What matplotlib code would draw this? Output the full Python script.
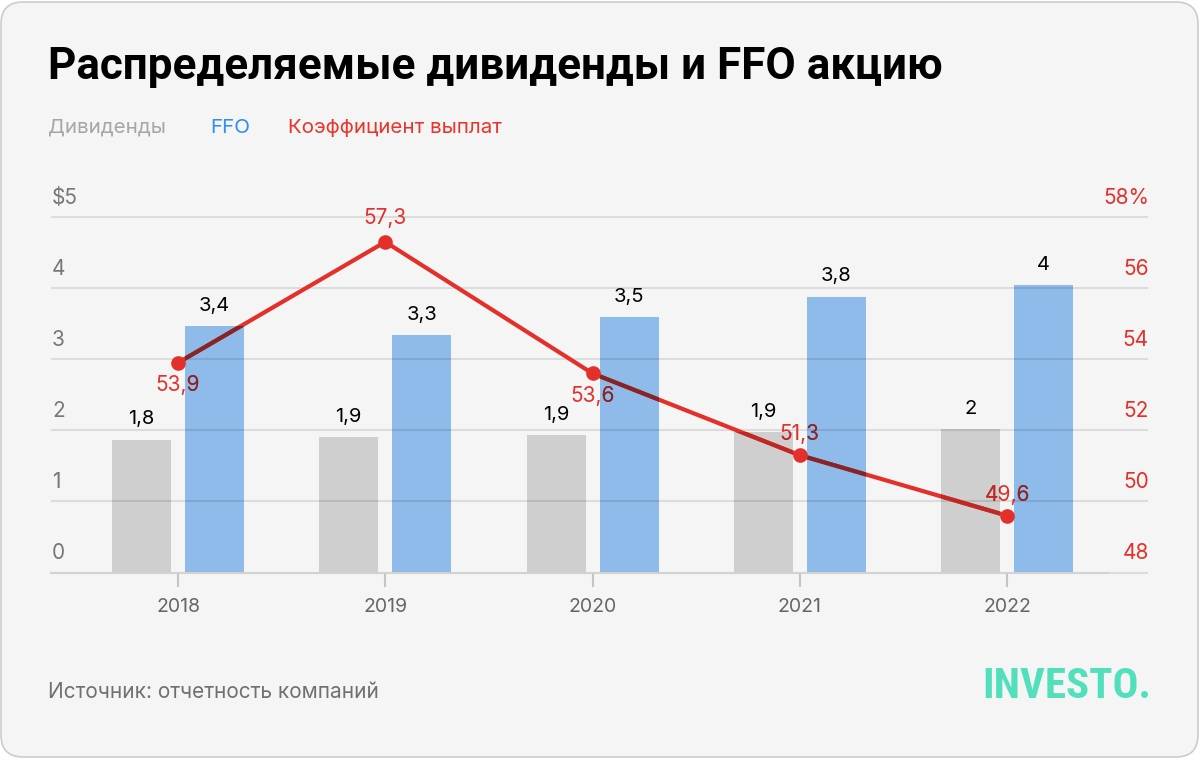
import math
import matplotlib
matplotlib.use("Agg")
import matplotlib.pyplot as plt
from matplotlib.patches import FancyBboxPatch
from matplotlib.transforms import IdentityTransform, blended_transform_factory

# ---------------- data ----------------
years = ["2018", "2019", "2020", "2021", "2022"]
dividends = [1.87, 1.91, 1.93, 1.98, 2.02]
ffo = [3.46, 3.34, 3.59, 3.88, 4.04]
payout = [53.9, 57.3, 53.6, 51.3, 49.6]
payout_label_side = ["below", "above", "below", "above", "above"]
left_ticks = [0, 1, 2, 3, 4, 5]
left_tick_labels = ["0", "1", "2", "3", "4", "$5"]
right_ticks = [48, 50, 52, 54, 56, 58]
right_tick_labels = ["48", "50", "52", "54", "56", "58%"]

title = "Распределяемые дивиденды и FFO акцию"
legend_labels = ["Дивиденды", "FFO", "Коэффициент выплат"]
source = "Источник: отчетность компаний"
logo = "INVESTO."

# ---------------- style ----------------
BG = "#f5f5f5"
GRAY_BAR = "#cfcfcf"
BLUE_BAR = "#8fbbeb"
RED = "#e3302a"
TICK_GRAY = "#777777"
BODY = ["Inter", "Roboto", "DejaVu Sans"]
plt.rcParams["font.family"] = BODY

W, H = 1200, 758
fig = plt.figure(figsize=(W / 100, H / 100), dpi=100)
fig.patch.set_facecolor("white")

card = FancyBboxPatch((1, 1), W - 3, H - 3, boxstyle="round,pad=0,rounding_size=22",
                      transform=IdentityTransform(), facecolor=BG, edgecolor="#cccccc",
                      linewidth=1.2, zorder=0)
fig.add_artist(card)


def px(x, y):
    return x / W, 1 - y / H


# title & legend
fig.text(*px(48, 67), title, fontsize=31.7, fontweight="bold", color="black",
         va="center", ha="left", family=["Roboto", "DejaVu Sans"])
leg_x = [48, 210, 288]
leg_c = ["#a6a6a6", "#2f8ff0", "#e8342a"]
for lx, lab, c in zip(leg_x, legend_labels, leg_c):
    fig.text(*px(lx, 128), lab, fontsize=14.8, color=c, va="center", ha="left")

fig.text(*px(48, 692), source, fontsize=15, color="#707070", va="center", ha="left")
fig.text(*px(1151, 687), logo, fontsize=31, color="#52dfbc", va="center", ha="right",
         family=["Liberation Sans Narrow", "Roboto Condensed", "Roboto"],
         fontweight="bold")

# ---------------- axes ----------------
ax_left, ax_right = 51, 1108
y0_px, y5_px = 572.5, 217
ax = fig.add_axes([ax_left / W, 1 - y0_px / H, (ax_right - ax_left) / W, (y0_px - y5_px) / H])
ax.set_facecolor("none")
spacing = 207.25
ax.set_xlim(-127 / spacing, len(years) - 1 + 101 / spacing)
ax.set_ylim(0, 5)
for s in ["top", "right", "left"]:
    ax.spines[s].set_visible(False)
ax.spines["bottom"].set_color("#d2d2d2")
ax.spines["bottom"].set_linewidth(1.5)
ax.spines["bottom"].set_zorder(4)
ax.set_yticks([])
xs = list(range(len(years)))
ax.set_xticks(xs, years)
ax.tick_params(axis="x", length=10, width=1.5, color="#c4c4c4", pad=8.5,
               labelsize=14, labelcolor="#666666")

off = 36.5 / spacing
bw = 59 / spacing
bars_d = ax.bar([x - off for x in xs], dividends, width=bw, color=GRAY_BAR, zorder=2)
bars_f = ax.bar([x + off for x in xs], ffo, width=bw, color=BLUE_BAR, zorder=2)


def trunc_label(v):
    t = math.floor(v * 10 + 1e-6) / 10
    s = f"{t:.1f}".replace(".", ",")
    if s.endswith(",0"):
        s = s[:-2]
    return s


for bars, vals in [(bars_d, dividends), (bars_f, ffo)]:
    for b, v in zip(bars, vals):
        ax.annotate(trunc_label(v), (b.get_x() + b.get_width() / 2, v), xytext=(0, 14.5),
                    textcoords="offset points", ha="center", va="center",
                    fontsize=14.5, color="black", zorder=6)

# gridlines (multiply-like dark overlay)
blend = blended_transform_factory(ax.transAxes, ax.transData)
grid_end = (1148 - ax_left) / (ax_right - ax_left)
for t in left_ticks:
    ax.plot([0, grid_end], [t, t], transform=blend, color="black", alpha=0.1,
            lw=1.5, zorder=3, clip_on=False, solid_capstyle="butt")

# left tick labels
for t, lab in zip(left_ticks, left_tick_labels):
    ax.annotate(lab, (0.001, t), xycoords=blend, xytext=(0, 14), textcoords="offset points",
                ha="left", va="center", fontsize=15, color=TICK_GRAY)

# ---------------- payout line ----------------
ax2 = ax.twinx()
ax2.set_ylim(48, 58)
ax2.set_yticks([])
for s in ax2.spines.values():
    s.set_visible(False)
blend2 = blended_transform_factory(ax2.transAxes, ax2.transData)
for t, lab in zip(right_ticks, right_tick_labels):
    ax2.annotate(lab, ((1149 - ax_left) / (ax_right - ax_left), t), xycoords=blend2,
                 xytext=(0, 14), textcoords="offset points", ha="right", va="center",
                 fontsize=15, color=RED)

ax2.plot(xs, payout, color=RED, lw=3, zorder=4, solid_capstyle="round")


def multiply(c1, c2):
    from matplotlib.colors import to_rgb
    a = to_rgb(c1)
    b = to_rgb(c2)
    bg = 245 / 255
    return tuple(min(1, x * y / bg) for x, y in zip(a, b))


label_artists = []
for x, v, side in zip(xs, payout, payout_label_side):
    dy = -16 if side == "below" else (17.5 if x == 1 else 15)
    lab = f"{v:.1f}".replace(".", ",")
    ax2.annotate(lab, (x, v), xytext=(0, dy), textcoords="offset points",
                 ha="center", va="center", fontsize=15, color=RED, zorder=6)
    label_artists.append((x, v, dy, lab))

# darker copies where the line / labels pass over bars
for bars, bc in [(bars_d, GRAY_BAR), (bars_f, BLUE_BAR)]:
    dark = multiply(RED, bc)
    for b in bars:
        ln, = ax2.plot(xs, payout, color=dark, lw=3, zorder=5)
        ln.set_clip_path(b)
        for (x, v, dy, lab) in label_artists:
            t = ax2.annotate(lab, (x, v), xytext=(0, dy), textcoords="offset points",
                             ha="center", va="center", fontsize=15, color=dark, zorder=7)
            t.set_clip_on(True)
            t.set_clip_path(b)

ax2.plot(xs, payout, linestyle="none", marker="o", markersize=9.5, color=RED, zorder=8)

fig.savefig("out.png", dpi=100, facecolor="white")
